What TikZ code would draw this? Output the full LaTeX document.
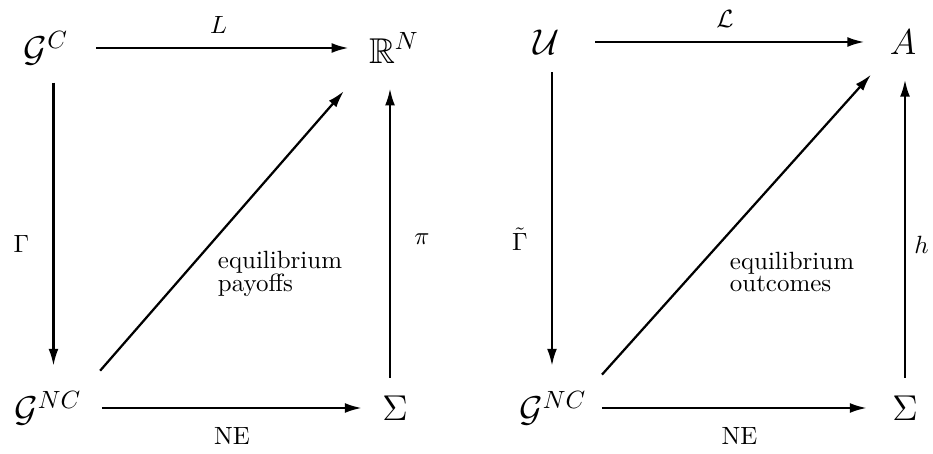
\documentclass[tikz,border=0pt]{standalone}
\usepackage{amssymb}
\usetikzlibrary{arrows.meta}
\tikzset{
  obj/.style={font=\Large, inner sep=2pt},
  arr/.style={-{Latex[length=2.4mm,width=1.4mm]}, line width=0.9pt},
  hor/.style={arr, shorten <=6pt, shorten >=6pt},
  ver/.style={arr, shorten <=5pt, shorten >=8pt},
  diag/.style={arr, shorten <=8pt, shorten >=8pt},
}
\begin{document}
\begin{tikzpicture}[x=0.0141cm,y=-0.0141cm]
\useasboundingbox (0,0) rectangle (933,454);

% left square: payoffs
\node[obj] (GC)  at (46,48)   {$\mathcal{G}^C$};
\node[obj] (RN)  at (394,48)  {$\mathbb{R}^N$};
\node[obj] (GNC) at (48,408)  {$\mathcal{G}^{NC}$};
\node[obj] (SL)  at (395,408) {$\Sigma$};

\draw[hor, shorten <=9pt] (GC) -- node[above=2pt] {$L$} (RN);
\draw[hor] (GNC) -- node[below=4pt] {NE} (SL);
\draw[ver] ([xshift=3pt]GC.south) -- node[pos=0.55, left=6pt] {$\Gamma$} ([xshift=3pt]GC.south |- GNC.north);
\draw[ver] ([xshift=-2pt]SL.north) -- node[pos=0.47, right=6pt] {$\pi$} ([xshift=-2pt]SL.north |- RN.south);
\draw[diag, shorten >=12pt] (GNC.north east) -- (RN.south west);
\node[align=left] (payoffs) at (280,274) {equilibrium\\[-3pt]payoffs};

% right square: outcomes
\node[obj] (U)    at (547,42)  {$\mathcal{U}$};
\node[obj] (A)    at (903,42)  {$A$};
\node[obj] (GNCr) at (553,408) {$\mathcal{G}^{NC}$};
\node[obj] (SR)   at (905,408) {$\Sigma$};

\draw[hor, shorten <=12pt, shorten >=8pt] (U) -- node[above=2pt] {$\mathcal{L}$} (A);
\draw[hor, shorten <=4pt, shorten >=8pt] (GNCr) -- node[below=4pt] {NE} (SR);
\draw[ver] ([xshift=2pt]U.south) -- node[pos=0.55, left=6pt] {$\tilde{\Gamma}$} ([xshift=2pt]U.south |- GNCr.north);
\draw[ver] (SR.north) -- node[pos=0.44, right=0pt] {$h$} (SR.north |- A.south);
\draw[diag, shorten <=6pt] (GNCr.north east) -- (A.south west);
\node[align=left] (outcomes) at (792,272) {equilibrium\\[-3pt]outcomes};
\end{tikzpicture}
\end{document}
